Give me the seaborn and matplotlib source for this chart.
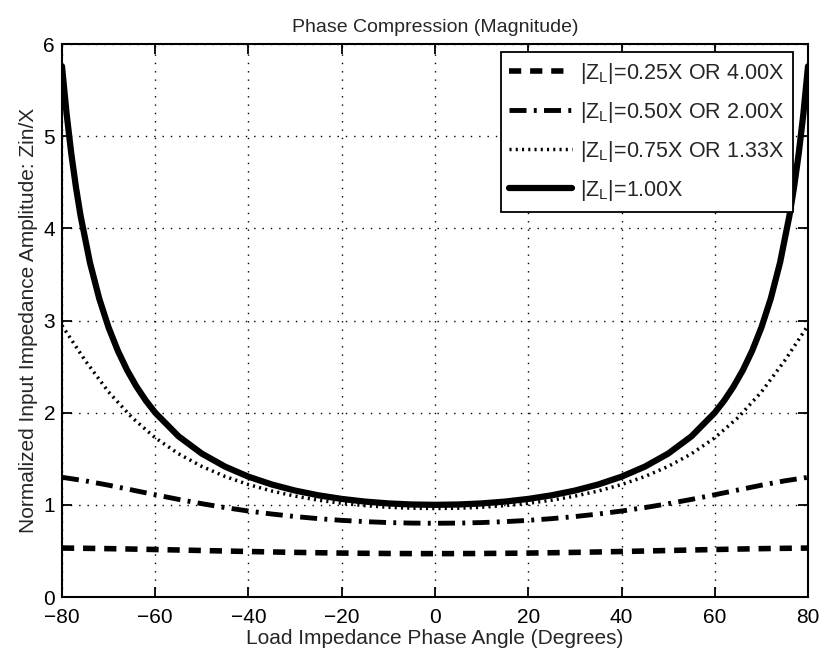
import numpy as np
import pandas as pd
import matplotlib
matplotlib.use("Agg")
import matplotlib.pyplot as plt
import seaborn as sns

# Data
x_coarse = [-80, -75, -70, -65, -60, -55, -50, -45, -40, -35, -30, -25, -20, -15, -10, -5,
            0, 5, 10, 15, 20, 25, 30, 35, 40, 45, 50, 55, 60, 65, 70, 75, 80]
half_025 = [0.4706, 0.4710, 0.4722, 0.4741, 0.4768, 0.4802, 0.4842, 0.4887, 0.4937,
            0.4990, 0.5045, 0.5100, 0.5153, 0.5203, 0.5247, 0.5283, 0.5311]
half_050 = [0.8000, 0.8020, 0.8078, 0.8177, 0.8317, 0.8501, 0.8729, 0.9004, 0.9328,
            0.9701, 1.0124, 1.0591, 1.1094, 1.1616, 1.2131, 1.2604, 1.2990]
half_075 = [0.9600, 0.9634, 0.9736, 0.9911, 1.0164, 1.0503, 1.0943, 1.1501, 1.2200,
            1.3074, 1.4167, 1.5540, 1.7276, 1.9475, 2.2246, 2.5645, 2.9460]
y_025 = half_025[::-1] + half_025[1:]
y_050 = half_050[::-1] + half_050[1:]
y_075 = half_075[::-1] + half_075[1:]

x_fine_half = [0, 5, 10, 15, 20, 25, 30, 35, 40, 45, 50, 55, 60, 62, 64, 66, 68, 70,
               72, 74, 76, 77, 78, 79, 80]
half_100 = [1.0, 1.0038, 1.0154, 1.0353, 1.0642, 1.1034, 1.1547, 1.2208, 1.3054, 1.4142,
            1.5557, 1.7434, 2.0, 2.1301, 2.2812, 2.4586, 2.6695, 2.9238, 3.2361, 3.6280,
            4.1336, 4.4454, 4.8097, 5.2408, 5.7588]
x_fine = [-v for v in x_fine_half[::-1]] + x_fine_half[1:]
y_100 = half_100[::-1] + half_100[1:]

labels = [r"|Z$_\mathregular{L}$|=0.25X OR 4.00X",
          r"|Z$_\mathregular{L}$|=0.50X OR 2.00X",
          r"|Z$_\mathregular{L}$|=0.75X OR 1.33X",
          r"|Z$_\mathregular{L}$|=1.00X"]

sns.set_style("ticks")
plt.rcParams["font.family"] = ["Liberation Sans", "DejaVu Sans"]
plt.rcParams["mathtext.fontset"] = "custom"
plt.rcParams["mathtext.rm"] = "Liberation Sans"
plt.rcParams["axes.unicode_minus"] = True

fig = plt.figure(figsize=(8.23, 6.58), dpi=100)
ax = fig.add_axes([0.0753, 0.0927, 0.9065, 0.8404])

df1 = pd.DataFrame({"x": x_coarse, "y": y_025})
df2 = pd.DataFrame({"x": x_coarse, "y": y_050})
df3 = pd.DataFrame({"x": x_coarse, "y": y_075})
df4 = pd.DataFrame({"x": x_fine, "y": y_100})

sns.lineplot(data=df1, x="x", y="y", ax=ax, color="black", lw=4, label=labels[0],
             linestyle=(0, (2.2, 1.6)))
sns.lineplot(data=df2, x="x", y="y", ax=ax, color="black", lw=3.5, label=labels[1],
             linestyle=(0, (3.5, 1.5, 0.6, 1.5)))
sns.lineplot(data=df3, x="x", y="y", ax=ax, color="black", lw=2.5, label=labels[2],
             linestyle=(0, (0.6, 1.2)))
sns.lineplot(data=df4, x="x", y="y", ax=ax, color="black", lw=4.5, label=labels[3],
             linestyle="-")

ax.set_xlim(-80, 80)
ax.set_ylim(0, 6)
ax.set_xticks(range(-80, 81, 20))
ax.set_yticks(range(0, 7, 1))
ax.grid(True, color="black", linestyle=(0, (1, 5)), linewidth=1.0)
for s in ax.spines.values():
    s.set_visible(True)
    s.set_linewidth(1.5)
    s.set_color("black")
ax.tick_params(direction="in", length=7, width=1.3, labelsize=15, top=True, right=True,
               colors="black")
ax.tick_params(axis="x", pad=8)
ax.tick_params(axis="y", pad=5)
ax.set_title("Phase Compression (Magnitude)", fontsize=14, pad=9)
ax.set_xlabel("Load Impedance Phase Angle (Degrees)", fontsize=15, labelpad=1)
ax.set_ylabel("Normalized Input Impedance Amplitude: Zin/X", fontsize=15, labelpad=4)

leg = ax.legend(loc="upper right", fontsize=15.5, frameon=True, fancybox=False,
                edgecolor="black", framealpha=1, handlelength=2.9, borderpad=0.4,
                labelspacing=0.65, handletextpad=0.4, borderaxespad=0,
                bbox_to_anchor=(0.98, 0.985))
leg.get_frame().set_linewidth(1.3)

fig.savefig("out.png", dpi=100)
